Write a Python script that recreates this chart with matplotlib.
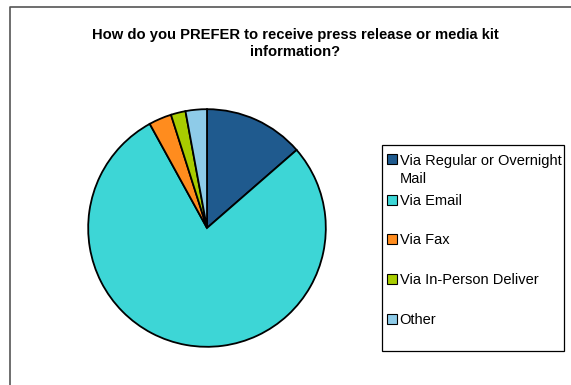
import matplotlib
matplotlib.use("Agg")
import matplotlib.pyplot as plt
from matplotlib.patches import Rectangle
from matplotlib.lines import Line2D

title = "How do you PREFER to receive press release or media kit\ninformation?"
categories = ["Via Regular or Overnight\nMail", "Via Email", "Via Fax",
              "Via In-Person Deliver", "Other"]
values = [13.6, 78.4, 3.1, 2.0, 2.9]
colors = ["#1F5A8E", "#3DD6D6", "#FF8C1E", "#A8CC00", "#8ECBE8"]

W, H = 571, 385
fig = plt.figure(figsize=(W / 100, H / 100), dpi=100)
plt.rcParams['font.family'] = ['Liberation Sans', 'DejaVu Sans']

def fx(x):
    return x / W

def fy(y):
    return 1 - y / H

# partial outer frame (top and left edges)
fig.lines.append(Line2D([fx(9.5), fx(9.5), fx(571)], [fy(385), fy(6.5), fy(6.5)],
                        transform=fig.transFigure, color='#555555', linewidth=1.2))

fig.text(fx(295), fy(43.5), title, ha='center', va='center',
         fontsize=10.6, fontweight='bold', linespacing=1.3)

cx, cy, r = 207, 228, 120
ax = fig.add_axes([fx(cx - r), fy(cy + r), 2 * r / W, 2 * r / H])
ax.pie(values, colors=colors, startangle=90, counterclock=False,
       wedgeprops=dict(edgecolor='black', linewidth=1.3))
ax.set_xlim(-1.01, 1.01)
ax.set_ylim(-1.01, 1.01)
ax.set_aspect('equal')
ax.axis('off')

# legend box
lx0, lx1, ly0, ly1 = 381.5, 564, 145, 350.5
fig.patches.append(Rectangle((fx(lx0), fy(ly1)), (lx1 - lx0) / W, (ly1 - ly0) / H,
                             transform=fig.transFigure, fill=False,
                             edgecolor='black', linewidth=0.9))
rows = [159, 199.5, 239, 278.5, 319]
for lab, col, y in zip(categories, colors, rows):
    s = 10
    fig.patches.append(Rectangle((fx(387), fy(y + s / 2)), s / W, s / H,
                                 transform=fig.transFigure, facecolor=col,
                                 edgecolor='black', linewidth=0.8))
    fig.text(fx(399.5), fy(y), lab.split("\n")[0], ha='left', va='center_baseline',
             fontsize=10.5)
    if "\n" in lab:
        fig.text(fx(399.5), fy(y + 18), lab.split("\n")[1], ha='left',
                 va='center_baseline', fontsize=10.5)

fig.savefig("out.png", dpi=100)
